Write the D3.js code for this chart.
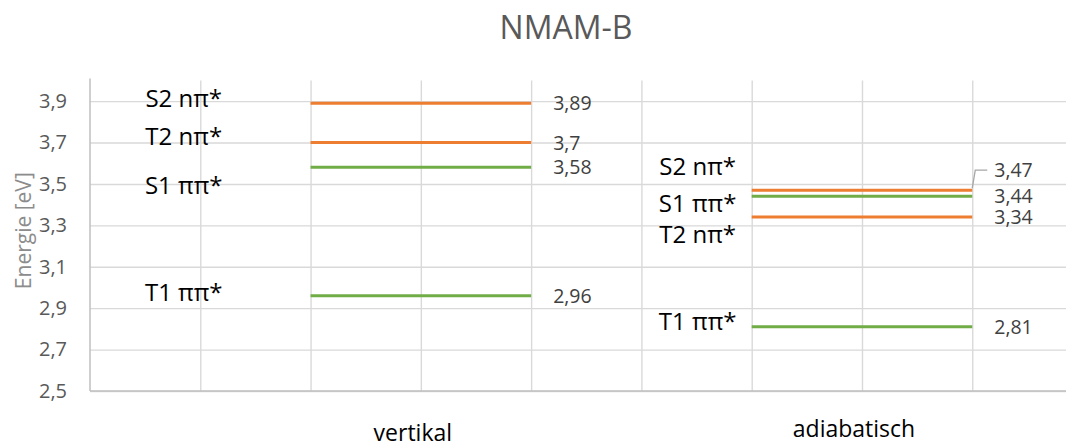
<!DOCTYPE html>
<html>
<head>
<meta charset="utf-8">
<script src="https://cdn.jsdelivr.net/npm/d3@7/dist/d3.min.js"></script>
<style>
  html, body { margin: 0; padding: 0; background: #fff; }
  svg { display: block; font-family: "Open Sans", "Noto Sans", sans-serif; }
</style>
</head>
<body>
<svg id="chart" width="1069" height="447"></svg>
<script>
// Energy levels (eV) for the two geometries
const groups = ["vertikal", "adiabatisch"];
const groupSpan = [[2, 4], [6, 8]];          // x-extent of each group's level lines
const groupCenter = [3, 7];                  // x-position of the group caption

const states    = ["S2 nπ*", "T2 nπ*", "S1 ππ*", "T1 ππ*"];
const stateType = ["nπ", "nπ", "ππ", "ππ"];
const vertikal    = [3.89, 3.70, 3.58, 2.96];
const adiabatisch = [3.47, 3.34, 3.44, 2.81];

// State name anchors (x in group units, y in eV)
const nameX = [0.85, 5.51];
const nameY = [
  [3.913, 3.732, 3.495, 2.977],   // vertikal: S2, T2, S1, T1
  [3.583, 3.258, 3.406, 2.838]    // adiabatisch: S2, T2, S1, T1
];

const yTicks = [2.5, 2.7, 2.9, 3.1, 3.3, 3.5, 3.7, 3.9];
const xTicks = [0, 1, 2, 3, 4, 5, 6, 7, 8];

const colors = { "nπ": "#ED7D31", "ππ": "#70AD47" };

const svg = d3.select("#chart");
const plotL = 90, plotR = 1066, plotT = 80.4, plotB = 391;

const x = d3.scaleLinear().domain([0, 8.85]).range([plotL, plotR]);
const y = d3.scaleLinear().domain([2.5, 4.0]).range([plotB, plotT]);

const fmt = v => String(+v.toFixed(2)).replace(".", ",");

// Gridlines
svg.append("g")
  .attr("transform", `translate(${plotL},0)`)
  .call(d3.axisLeft(y).tickValues(yTicks).tickSize(-(plotR - plotL)).tickFormat(""))
  .call(g => g.select(".domain").remove())
  .call(g => g.selectAll(".tick line").attr("stroke", "#d9d9d9").attr("stroke-width", 1.4));

svg.append("g")
  .attr("transform", `translate(0,${plotB})`)
  .call(d3.axisBottom(x).tickValues(xTicks.slice(1)).tickSize(-(plotB - plotT)).tickFormat(""))
  .call(g => g.select(".domain").remove())
  .call(g => g.selectAll(".tick line").attr("stroke", "#d9d9d9").attr("stroke-width", 1.4));

// Axis lines
svg.append("line").attr("x1", plotL).attr("x2", plotL).attr("y1", plotT - 2).attr("y2", plotB)
  .attr("stroke", "#bfbfbf").attr("stroke-width", 1.5);
svg.append("line").attr("x1", plotL).attr("x2", plotR).attr("y1", plotB).attr("y2", plotB)
  .attr("stroke", "#bfbfbf").attr("stroke-width", 1.5);

// Y tick labels
svg.append("g")
  .attr("transform", `translate(${plotL},0)`)
  .call(d3.axisLeft(y).tickValues(yTicks).tickSize(0).tickPadding(23).tickFormat(d => fmt(d)))
  .call(g => g.select(".domain").remove())
  .call(g => g.selectAll("text")
    .attr("fill", "#595959").style("font-size", "20px")
    .style("font-family", "'Open Sans', sans-serif"));

// Axis title
svg.append("text")
  .attr("transform", `translate(23,${(plotT + plotB) / 2 - 5}) rotate(-90)`)
  .attr("text-anchor", "middle").attr("dy", "0.36em")
  .attr("fill", "#8c8c8c").style("font-size", "21px")
  .text("Energie [eV]");

// Chart title
svg.append("text")
  .attr("x", 566).attr("y", 39)
  .attr("text-anchor", "middle")
  .attr("fill", "#595959").style("font-size", "32px")
  .text("NMAM-B");

// Level lines, value labels, state names
const series = [vertikal, adiabatisch];
series.forEach((vals, gi) => {
  const [x0, x1] = groupSpan[gi];
  const g = svg.append("g");

  g.selectAll("line.level").data(vals).join("line")
    .attr("class", "level")
    .attr("x1", x(x0)).attr("x2", x(x1))
    .attr("y1", d => y(d)).attr("y2", d => y(d))
    .attr("stroke", (d, i) => colors[stateType[i]])
    .attr("stroke-width", 3);

  // value labels; the topmost adiabatic label is lifted to clear its neighbour
  const lift = vals.map(v => (gi === 1 && v === d3.max(vals)) ? 20 : 0);
  g.selectAll("text.val").data(vals).join("text")
    .attr("class", "val")
    .attr("x", x(x1) + 22)
    .attr("y", (d, i) => y(d) - lift[i])
    .attr("dy", "0.36em")
    .attr("fill", "#404040").style("font-size", "19.5px")
    .text(d => fmt(d));

  vals.forEach((v, i) => {
    if (lift[i] > 0) {
      const xe = x(x1), ye = y(v) - 2, yl = y(v) - lift[i];
      g.append("polyline")
        .attr("points", `${xe},${ye} ${xe + 3},${yl} ${xe + 15},${yl}`)
        .attr("fill", "none").attr("stroke", "#a6a6a6").attr("stroke-width", 1.3);
    }
  });

  g.selectAll("text.name").data(states).join("text")
    .attr("class", "name")
    .attr("x", x(nameX[gi]))
    .attr("y", (d, i) => y(nameY[gi][i]))
    .attr("dy", "0.36em")
    .attr("text-anchor", "middle")
    .attr("fill", "#000").style("font-size", "24px")
    .text(d => d);
});

// Group captions
const captionBase = [441, 437];
svg.selectAll("text.cap").data(groups).join("text")
  .attr("class", "cap")
  .attr("x", (d, i) => x(groupCenter[i]) - 8)
  .attr("y", (d, i) => captionBase[i])
  .attr("text-anchor", "middle")
  .attr("fill", "#000").style("font-size", "23px")
  .text(d => d);
</script>
</body>
</html>
